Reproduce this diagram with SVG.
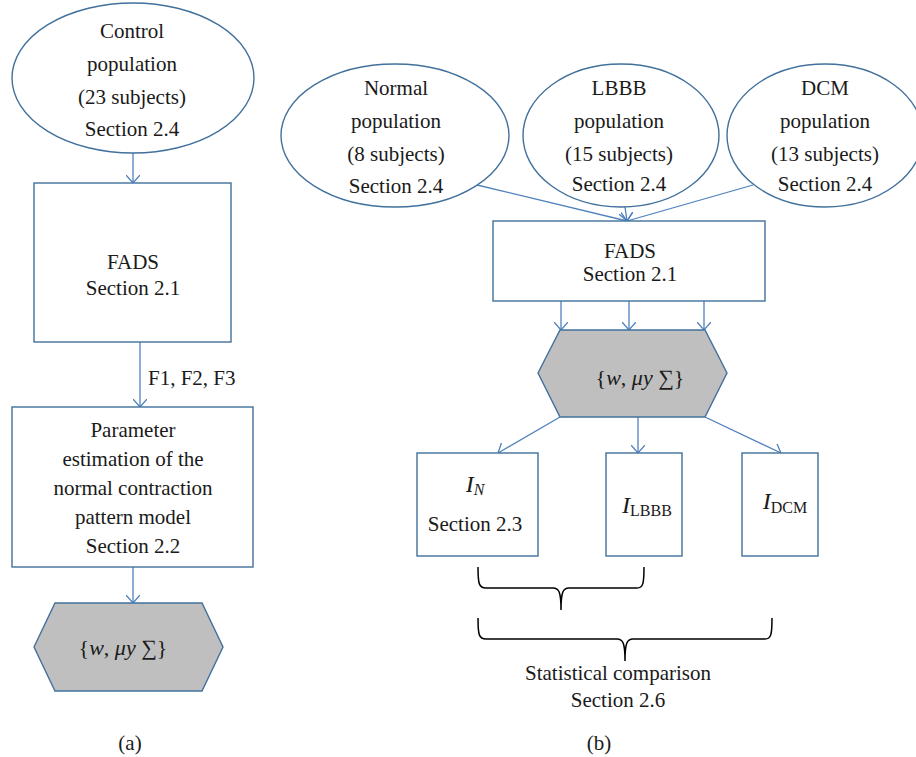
<svg xmlns="http://www.w3.org/2000/svg" width="916" height="757" viewBox="0 0 916 757">
<defs>
<style>
.shape{fill:#ffffff;stroke:#41719c;stroke-width:1.4}
.hex{fill:#bfbfbf;stroke:#41719c;stroke-width:1.4}
.conn{fill:none;stroke:#4f81bd;stroke-width:1.3}
.brace{fill:none;stroke:#000000;stroke-width:1.5}
text{font-family:"Liberation Serif","Times New Roman",serif;font-size:21px;fill:#1a1a1a;text-anchor:middle}
.it{font-style:italic}
.big{font-size:24px}
.sub{font-size:16px}
</style>
<marker id="ah" viewBox="0 0 8 14" refX="8" refY="7" markerWidth="8" markerHeight="14" orient="auto" markerUnits="userSpaceOnUse">
<path d="M0,0 L8,7 L0,14" fill="none" stroke="#4f81bd" stroke-width="1.3"/>
</marker>
</defs>
<rect width="916" height="757" fill="#ffffff"/>

<g id="connectors">
<line class="conn" x1="133" y1="153" x2="133" y2="183" marker-end="url(#ah)"/>
<line class="conn" x1="140" y1="342" x2="140" y2="407" marker-end="url(#ah)"/>
<line class="conn" x1="133" y1="567" x2="133" y2="603" marker-end="url(#ah)"/>
<line class="conn" x1="477" y1="185" x2="627" y2="221" marker-end="url(#ah)"/>
<line class="conn" x1="625" y1="207" x2="627" y2="221" marker-end="url(#ah)"/>
<line class="conn" x1="753" y1="185" x2="627" y2="221" marker-end="url(#ah)"/>
<line class="conn" x1="561" y1="301" x2="561" y2="330" marker-end="url(#ah)"/>
<line class="conn" x1="629" y1="301" x2="629" y2="330" marker-end="url(#ah)"/>
<line class="conn" x1="704" y1="301" x2="704" y2="330" marker-end="url(#ah)"/>
<line class="conn" x1="560" y1="417" x2="498" y2="453" marker-end="url(#ah)"/>
<line class="conn" x1="638" y1="417" x2="638" y2="453" marker-end="url(#ah)"/>
<line class="conn" x1="705" y1="417" x2="781" y2="453" marker-end="url(#ah)"/>
<text x="148" y="385" style="text-anchor:start">F1, F2, F3</text>
</g>

<g id="control-population">
<ellipse class="shape" cx="133" cy="78" rx="121" ry="75"/>
<text x="132" y="38">Control</text>
<text x="132" y="71">population</text>
<text x="132" y="104">(23 subjects)</text>
<text x="132" y="136">Section 2.4</text>
</g>

<g id="fads-a">
<rect class="shape" x="34" y="183" width="197" height="159"/>
<text x="133" y="269">FADS</text>
<text x="133" y="295">Section 2.1</text>
</g>

<g id="parameter-estimation">
<rect class="shape" x="12" y="407" width="241" height="160"/>
<text x="133" y="437">Parameter</text>
<text x="133" y="466">estimation of the</text>
<text x="133" y="495">normal contraction</text>
<text x="133" y="524">pattern model</text>
<text x="133" y="553">Section 2.2</text>
</g>

<g id="params-a">
<polygon class="hex" points="34,647 55,603 202,603 223,647 202,691 55,691"/>
<text x="123" y="655" style="font-size:22px">{<tspan class="it">w</tspan>, <tspan class="it">μy</tspan> ∑}</text>
</g>

<g id="label-a"><text x="130" y="750">(a)</text></g>

<g id="normal-population">
<ellipse class="shape" cx="395" cy="135.5" rx="114" ry="71.5"/>
<text x="396" y="95">Normal</text>
<text x="396" y="128">population</text>
<text x="396" y="161">(8 subjects)</text>
<text x="396" y="193">Section 2.4</text>
</g>

<g id="lbbb-population">
<ellipse class="shape" cx="621" cy="135.5" rx="98" ry="71.5"/>
<text x="619" y="95">LBBB</text>
<text x="619" y="128">population</text>
<text x="619" y="161">(15 subjects)</text>
<text x="619" y="191">Section 2.4</text>
</g>

<g id="dcm-population">
<ellipse class="shape" cx="825" cy="135.5" rx="98" ry="71.5"/>
<text x="825" y="95">DCM</text>
<text x="825" y="128">population</text>
<text x="825" y="161">(13 subjects)</text>
<text x="825" y="191">Section 2.4</text>
</g>

<g id="fads-b">
<rect class="shape" x="493" y="221" width="272" height="80"/>
<text x="630" y="258">FADS</text>
<text x="630" y="281">Section 2.1</text>
</g>

<g id="params-b">
<polygon class="hex" points="538,373 560,330 705,330 727,373 705,417 560,417"/>
<text x="640" y="385" style="font-size:22px">{<tspan class="it">w</tspan>, <tspan class="it">μy</tspan> ∑}</text>
</g>

<g id="index-n">
<rect class="shape" x="417" y="453" width="121" height="103"/>
<text x="475" y="492"><tspan class="it big">I</tspan><tspan class="it sub" dy="3">N</tspan></text>
<text x="475" y="531">Section 2.3</text>
</g>

<g id="index-lbbb">
<rect class="shape" x="606" y="453" width="76" height="103"/>
<text x="647" y="513"><tspan class="it big">I</tspan><tspan class="sub" dy="3">LBBB</tspan></text>
</g>

<g id="index-dcm">
<rect class="shape" x="742" y="453" width="76" height="103"/>
<text x="785" y="509"><tspan class="it big">I</tspan><tspan class="sub" dy="4">DCM</tspan></text>
</g>

<g id="brace-1">
<path class="brace" d="M478,567 C478,584 479,588 486,588 L553,588 C559,588 561,592 561,610 C561,592 563,588 569,588 L637,588 C643,588 644,584 644,567"/>
</g>

<g id="brace-2">
<path class="brace" d="M478,618 C478,635 479,639 486,639 L617,639 C623,639 625,643 625,661 C625,643 627,639 633,639 L765,639 C771,639 772,635 772,618"/>
</g>

<g id="statistical-comparison">
<text x="618" y="680">Statistical comparison</text>
<text x="618" y="707">Section 2.6</text>
</g>

<g id="label-b"><text x="599" y="750">(b)</text></g>
</svg>
